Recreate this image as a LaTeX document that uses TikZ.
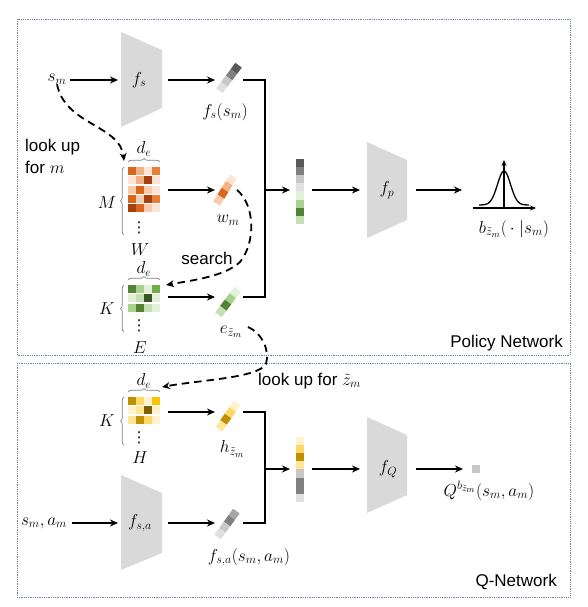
\documentclass[tikz,border=0pt]{standalone}
\usepackage{fontspec}
\setmainfont{Liberation Sans}
\newfontfamily\djv{DejaVu Sans}
\usetikzlibrary{arrows.meta,decorations.pathreplacing}
\definecolor{panelc}{RGB}{110,130,170}
\definecolor{trapc}{HTML}{D9D9D9}
\definecolor{bracec}{HTML}{808080}
\definecolor{o1}{HTML}{FBE5D6}\definecolor{o2}{HTML}{F8CBAD}\definecolor{o3}{HTML}{F4B183}
\definecolor{o4}{HTML}{ED7D31}\definecolor{o5}{HTML}{D9661E}\definecolor{o6}{HTML}{A6410E}
\definecolor{g1}{HTML}{E2F0D9}\definecolor{g2}{HTML}{C5E0B4}\definecolor{g3}{HTML}{A9D18E}
\definecolor{g4}{HTML}{70AD47}\definecolor{g5}{HTML}{548235}\definecolor{g6}{HTML}{375623}
\definecolor{y1}{HTML}{FFF2CC}\definecolor{y2}{HTML}{FFE699}\definecolor{y3}{HTML}{FFD966}
\definecolor{y4}{HTML}{FFC000}\definecolor{y5}{HTML}{BF9000}\definecolor{y6}{HTML}{7F6000}
\definecolor{k1}{HTML}{E0E0E0}\definecolor{k2}{HTML}{C8C8C8}\definecolor{k3}{HTML}{A6A6A6}
\definecolor{k4}{HTML}{808080}\definecolor{k5}{HTML}{595959}
% matrix: x, y, rows of 4 colours
\newcommand\drawmat[3]{%
  \foreach \ca/\cb/\cc/\cd [count=\i from 0] in {#3}{%
    \foreach \cx [count=\j from 0] in {\ca,\cb,\cc,\cd}{%
      \fill[\cx] ({#1+8*\j},{#2+9.3*\i}) rectangle ++(8,8);}}}
% tilted vector: centre, angle, colours top to bottom
\newcommand\tvec[3]{%
  \begin{scope}[shift={(#1)},rotate=#2]
    \foreach \cx [count=\j from 0] in {#3}{%
      \fill[\cx] ({8-8*\j},-4) rectangle ++(8,8);}
  \end{scope}}
% vertical vector: x, y, colours
\newcommand\vvec[3]{%
  \foreach \cx [count=\j from 0] in {#3}{%
    \fill[\cx] (#1,{#2+8.1*\j}) rectangle ++(8,8.1);}}
\begin{document}
\begin{tikzpicture}[x=1pt,y=-1pt,
  lab/.style={font=\fontsize{17.5}{19}\selectfont, inner sep=0pt},
  dts/.style={font=\djv\fontsize{15}{16}\selectfont, inner sep=0pt},
  txt/.style={font=\fontsize{17}{20}\selectfont, inner sep=0pt},
  arr/.style={line width=1.6pt,-{Stealth[length=8pt,width=7pt]}},
  ln/.style={line width=1.6pt},
  dsh/.style={line width=1.8pt, dash pattern=on 7.5pt off 5pt, -{Stealth[length=8pt,width=7pt]}},
  panel/.style={draw=panelc, densely dotted, line width=0.8pt},
  trap/.style={fill=trapc},
  brc/.style={draw=bracec, line width=0.7pt, decorate, decoration={brace, amplitude=3.5pt}}]
\useasboundingbox (0,0) rectangle (588,607);
% panels
\draw[panel] (17,19) rectangle (570,355);
\draw[panel] (17,363) rectangle (570,597);
\node[txt, anchor=east] (pn) at (563,343) {Policy Network};
\node[txt, anchor=east] (qn) at (557,582) {Q-Network};

% ================= Policy network =================
\fill[trap] (121,32) -- (162,50) -- (162,108) -- (121,127) -- cycle;
\node[lab] (fs) at (139,80) {$f_s$};
\node[lab] (sm) at (57,79) {$s_m$};
\coordinate (smR) at (70,80); \coordinate (fsL) at (118,80);
\coordinate (fsR) at (168,80); \coordinate (fvL) at (215,80);
\draw[arr] (smR) -- (fsL);
\draw[arr] (fsR) -- (fvL);
\tvec{229,78}{53}{k5,k4,k2,k1}
\coordinate (fvR) at (243,80);
\node[lab] (fsv) at (225,112) {$f_s(s_m)$};

% M matrix
\drawmat{128}{167}{o5/o3/o1/o4, o1/o3/o6/o1, o2/o5/o2/o1, o5/o2/o6/o4, o6/o5/o2/o1}
\draw[brc] (128,162) -- (160,162);
\draw[brc] (124,235) -- (124,167);
\node[lab] (de1) at (144,149) {$d_e$};
\node[lab] (Ml) at (107,203) {$M$};
\node[dts] (vd1) at (139,228) {⋮};
\node[lab] (Wl) at (140,250) {$W$};
\coordinate (MR) at (168,190); \coordinate (wL) at (215,190);
\draw[arr] (MR) -- (wL);
\tvec{225,190}{58}{o1,o3,o5,o2}
\node[lab] (wm) at (228,220) {$w_m$};

% K matrix (green)
\drawmat{128}{285}{g5/g3/g1/g4, g1/g2/g6/g1, g3/g5/g2/g1}
\draw[brc] (128,280) -- (160,280);
\draw[brc] (124,332) -- (124,285);
\node[lab] (de2) at (144,269) {$d_e$};
\node[lab] (Kl) at (107,309) {$K$};
\node[dts] (vd2) at (139,326) {⋮};
\node[lab] (El) at (140,348) {$E$};
\coordinate (KR) at (168,297); \coordinate (eL) at (215,297);
\draw[arr] (KR) -- (eL);
\tvec{228,302}{53}{g1,g3,g5,g2}
\node[lab] (ez) at (231,332) {$e_{\tilde z_m}$};
\coordinate (eR) at (243,297);

% join
\coordinate (j1) at (265,80); \coordinate (j2) at (265,297);
\coordinate (j3) at (265,190); \coordinate (catL) at (290,190);
\draw[ln] (fvR) -- (j1) -- (j2) -- (eR);
\draw[arr] (j3) -- (catL);
\vvec{296}{159}{k5,k4,k2,k1,g1,g3,g5,g2}
\coordinate (catR) at (312,190); \coordinate (fpL) at (360,190);
\draw[arr] (catR) -- (fpL);
\fill[trap] (367,142) -- (407,160) -- (407,220) -- (367,238) -- cycle;
\node[lab] (fp) at (387,190) {$f_p$};
\coordinate (fpR) at (416,190); \coordinate (gL) at (462,190);
\draw[arr] (fpR) -- (gL);
% gaussian
\coordinate (ax0) at (473,208); \coordinate (ax1) at (536,208);
\coordinate (ay0) at (504,208); \coordinate (ay1) at (504,160);
\draw[line width=1.3pt,-{Stealth[length=6pt,width=5pt]}] (ax0) -- (ax1);
\draw[line width=1.3pt,-{Stealth[length=6pt,width=5pt]}] (ay0) -- (ay1);
\draw[line width=1.3pt] plot[domain=-25:25,samples=60,smooth] ({504+\x},{205-34*exp(-(\x*\x)/85)});
\node[lab] (bz) at (514,229) {$b_{\tilde z_m}(\,\cdot\;|s_m)$};

% dashed look-ups
\node[txt, anchor=west] (lu1) at (25,147) {look up};
\node[txt, anchor=west] (lu2) at (25,167) {for $m$};
\coordinate (Mtop) at (124,161);
\draw[dsh] (sm.south) .. controls (65,125) and (120,125) .. (Mtop);
\coordinate (wtop) at (237,190); \coordinate (smid) at (240,262); \coordinate (Kin) at (166,285);
\draw[dsh] (wtop) .. controls (255,205) and (256,242) .. (smid) .. controls (225,276) and (195,280) .. (Kin);
\node[txt] (search) at (207,258) {search};

% ================= Q network =================
\coordinate (ezR) at (248,327); \coordinate (emid) at (266,364); \coordinate (Hin) at (162,387);
\draw[dsh] (ezR) .. controls (262,333) and (270,350) .. (emid) .. controls (258,378) and (200,380) .. (Hin);
\node[txt, anchor=west] (luz) at (258,381) {look up for $\tilde z_m$};

\drawmat{128}{397}{y5/y3/y1/y4, y1/y2/y6/y1, y2/y5/y3/y1}
\draw[brc] (128,392) -- (160,392);
\draw[brc] (124,445) -- (124,397);
\node[lab] (de3) at (144,381) {$d_e$};
\node[lab] (K2) at (107,421) {$K$};
\node[dts] (vd3) at (139,438) {⋮};
\node[lab] (Hl) at (140,458) {$H$};
\coordinate (HR) at (168,412); \coordinate (hL) at (215,412);
\draw[arr] (HR) -- (hL);
\tvec{228,416}{55}{y1,y3,y5,y2}
\node[lab] (hz) at (232,449) {$h_{\tilde z_m}$};
\coordinate (hR) at (243,412);

\node[lab] (sa) at (44,523) {$s_m, a_m$};
\coordinate (saR) at (72,523); \coordinate (fsaL) at (118,523);
\draw[arr] (saR) -- (fsaL);
\fill[trap] (121,475) -- (162,493) -- (162,553) -- (121,570) -- cycle;
\node[lab] (fsa) at (140,523) {$f_{s,a}$};
\coordinate (fsaR) at (168,523); \coordinate (fsavL) at (215,523);
\draw[arr] (fsaR) -- (fsavL);
\tvec{227,524}{54}{k3,k4,k2,k1}
\node[lab] (fsav) at (249,557) {$f_{s,a}(s_m, a_m)$};
\coordinate (fsavR) at (243,523);

\coordinate (q1) at (265,412); \coordinate (q2) at (265,523);
\coordinate (q3) at (265,469); \coordinate (qcatL) at (290,469);
\draw[ln] (hR) -- (q1) -- (q2) -- (fsavR);
\draw[arr] (q3) -- (qcatL);
\vvec{296}{437}{y1,y3,y5,y2,k2,k4,k4,k1}
\coordinate (qcatR) at (312,469); \coordinate (fQL) at (360,469);
\draw[arr] (qcatR) -- (fQL);
\fill[trap] (367,417) -- (407,435) -- (407,495) -- (367,513) -- cycle;
\node[lab] (fQ) at (388,469) {$f_Q$};
\coordinate (fQR) at (416,469); \coordinate (qvL) at (463,469);
\draw[arr] (fQR) -- (qvL);
\fill[k2] (472,465) rectangle (480,473);
\node[lab] (Qv) at (489,491) {$Q^{b_{\tilde z_m}}(s_m, a_m)$};
\end{tikzpicture}
\end{document}
